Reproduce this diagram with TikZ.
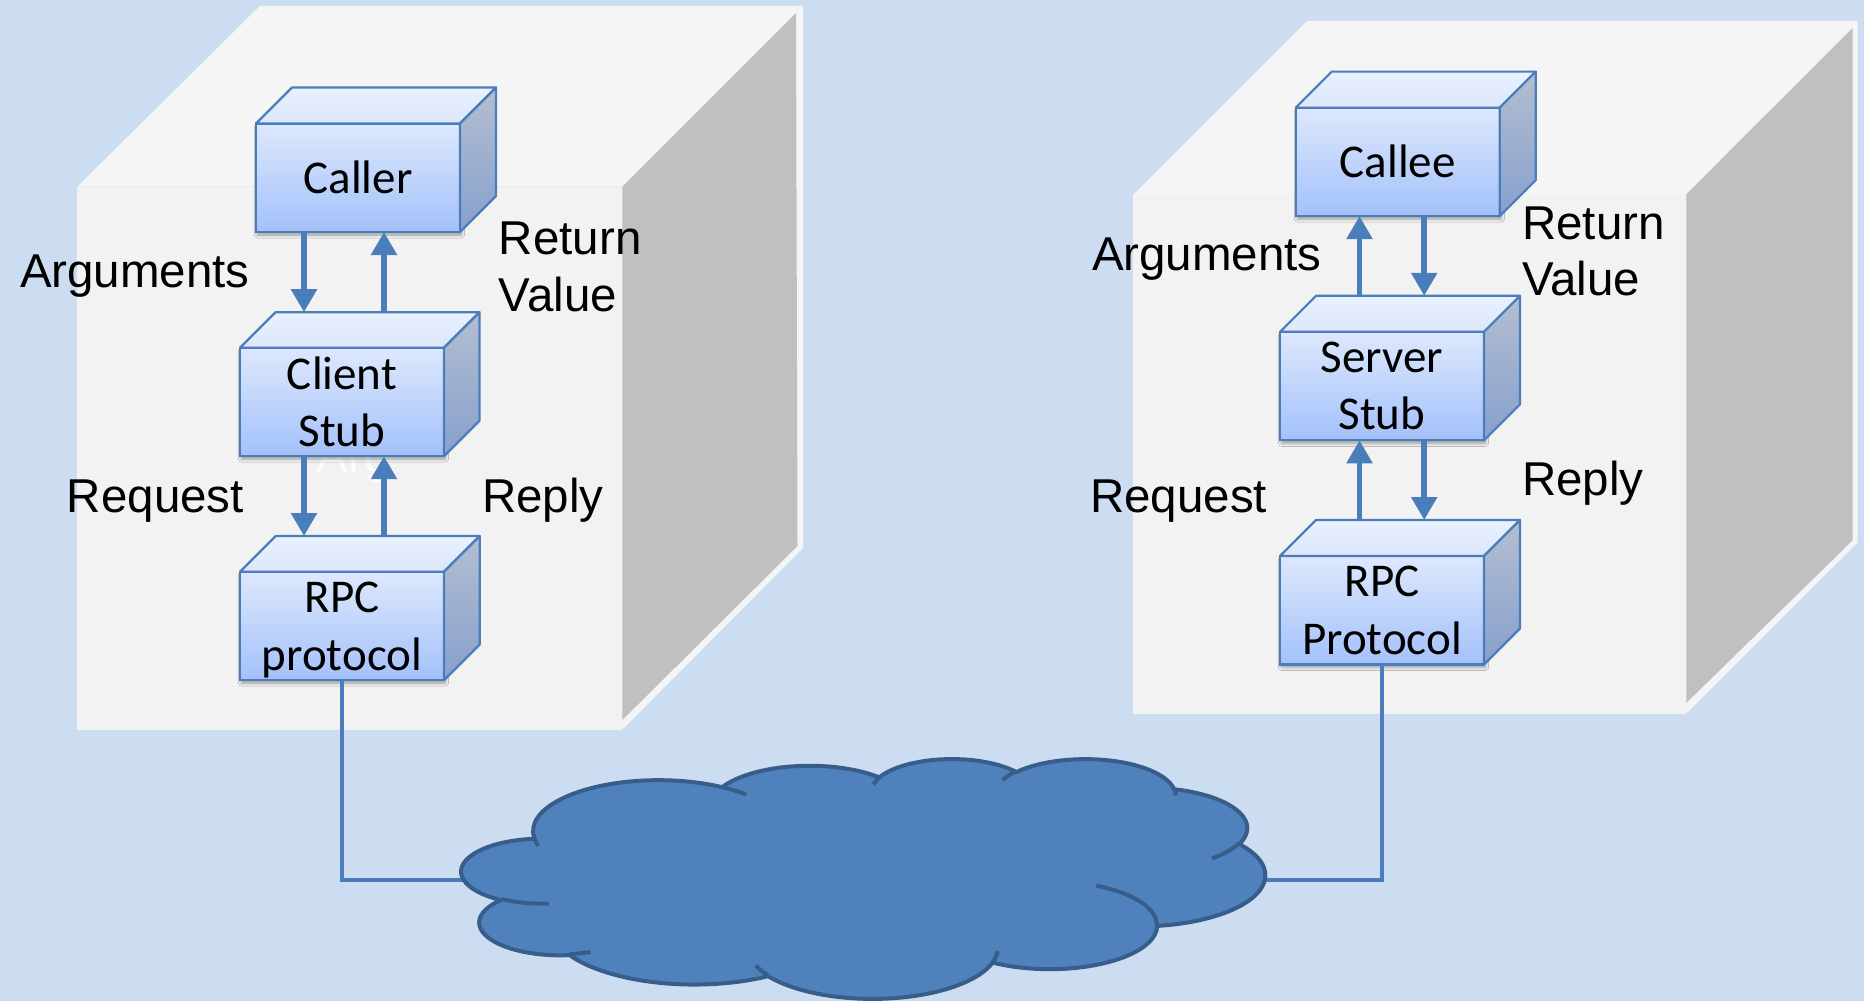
\documentclass[tikz,border=0pt]{standalone}
\usepackage{fontspec}
\newfontfamily\labfont{Liberation Sans}
\newfontfamily\boxfont{Carlito}
\usetikzlibrary{arrows.meta,shadows.blur}
\definecolor{bgblue}{HTML}{CDDDF1}
\definecolor{cubetop}{HTML}{F5F5F5}
\definecolor{cubefront}{HTML}{F2F2F2}
\definecolor{cubeside}{HTML}{C0C0C0}
\definecolor{boxline}{HTML}{4A7EBB}
\definecolor{arrowblue}{HTML}{4A7EBB}
\definecolor{frontTop}{HTML}{DDE8FD}
\definecolor{frontBot}{HTML}{A3C1FA}
\definecolor{topTop}{HTML}{EAF1FE}
\definecolor{topBot}{HTML}{DCE7FC}
\definecolor{sideTop}{HTML}{B3BED1}
\definecolor{sideBot}{HTML}{87A0CC}
\definecolor{cloudfill}{HTML}{4F81BD}
\definecolor{cloudline}{HTML}{385D8A}

\newcommand\cloudarc[5]{%
  \pgfmathsetmacro\cloudtA{atan2((#2)*sin(#4),(#3)*cos(#4))}%
  \pgfmathsetmacro\cloudtB{atan2((#2)*sin((#4)+(#5)),(#3)*cos((#4)+(#5)))}%
  \pgfmathsetmacro\cloudtD{mod((\cloudtB)-(\cloudtA)-(#5)+720,360)}%
  \pgfmathsetmacro\cloudtD{(\cloudtD)>180 ? (\cloudtD)-360 : (\cloudtD)}%
  \pgfmathsetmacro\cloudtE{(\cloudtA)+(#5)+(\cloudtD)}%
  \expandafter\let\csname cl#1S\endcsname\cloudtA
  \expandafter\let\csname cl#1E\endcsname\cloudtE
}

\tikzset{
  frontbox/.style={draw=boxline, line width=2.2pt, top color=frontTop, bottom color=frontBot,
    inner sep=0pt, outer sep=0pt, font=\boxfont\fontsize{47}{57.7}\selectfont, align=center,
    blur shadow={shadow xshift=1.5pt, shadow yshift=-3pt, shadow blur radius=3pt, shadow opacity=35}},
  topface/.style={draw=boxline, line width=2.2pt, line join=round, top color=topTop, bottom color=topBot},
  sideface/.style={draw=boxline, line width=2.2pt, line join=round, top color=sideTop, bottom color=sideBot},
  arr/.style={draw=arrowblue, line width=5.5pt, -{Triangle[width=25pt,length=23pt]}},
  link/.style={draw=arrowblue, line width=4.5pt},
  lab/.style={font=\labfont\fontsize{47.5}{56.7}\selectfont, inner sep=0pt, outer sep=0pt, align=left},
  cloudshape/.style={fill=cloudfill, draw=cloudline, line width=4pt, line join=round},
  cloudinner/.style={draw=cloudline, line width=4pt},
}

\newcommand\cubebox[5]{% name, x, y, depth, text
  \node[frontbox, minimum width=204pt, minimum height=108.5pt, anchor=north west] (#1) at (#2,#3) {#5};
  \path (#1.north west) ++(#4,-#4) coordinate (#1back);
  \path (#1.north east) ++(#4,-#4) coordinate (#1backr);
  \draw[topface] (#1.north west) -- (#1back) -- (#1backr) -- (#1.north east) -- cycle;
  \draw[sideface] (#1.north east) -- (#1backr) -- ++(0,108.5) -- (#1.south east) -- cycle;
}

\begin{document}
\begin{tikzpicture}[x=1pt,y=-1pt]
\useasboundingbox (0,0) rectangle (1864,1001);
\fill[bgblue] (0,0) rectangle (1864,1001);

% ---- left big cube
\fill[cubetop] (77.4,186.6) -- (260,5.8) -- (803,5.8) -- (622.4,186.6) -- cycle;
\fill[cubefront] (77.4,186.6) rectangle (622.4,729.5);
\fill[cubetop] (622.4,186.6) -- (803,5.8) -- (803,548) -- (622.4,729.5) -- cycle;
\fill[cubeside] (622.4,186.6) -- (796,13) -- (797.5,546) -- (622.4,720) -- cycle;

% ---- right big cube
\fill[cubetop] (1133.4,194.4) -- (1307,21.2) -- (1857.5,21.2) -- (1686.3,194.4) -- cycle;
\fill[cubefront] (1133.4,194.4) rectangle (1686.3,713.5);
\fill[cubetop] (1686.3,194.4) -- (1857.5,21.2) -- (1857.5,542.7) -- (1686.3,713.5) -- cycle;
\fill[cubeside] (1686.3,194.4) -- (1852.6,28) -- (1852.6,540.4) -- (1686.3,703) -- cycle;

% ghost text partly hidden behind the client stub
\node[lab, text=white, text opacity=0.85, anchor=base west] (ghost) at (316.7,472) {Arg};

% ---- boxes
\cubebox{caller}{256}{123.5}{36}{Caller}
\cubebox{cstub}{240}{347.7}{35.5}{Client\\Stub}
\cubebox{rpcl}{240}{571.7}{35.7}{\rule{0pt}{39pt}RPC\\protocol}
\cubebox{callee}{1295.8}{107.6}{36}{Callee}
\cubebox{sstub}{1280}{331.8}{36}{Server\\Stub}
\cubebox{rpcr}{1280}{556}{36}{RPC\\Protocol}

% ---- arrows
\coordinate (xa) at (304,0);
\coordinate (xb) at (384,0);
\coordinate (xc) at (1359.5,0);
\coordinate (xd) at (1424.2,0);
\draw[arr] (caller.south -| xa) -- (cstubback -| xa);
\draw[arr] (cstubback -| xb) -- (caller.south -| xb);
\draw[arr] (cstub.south -| xa) -- (rpclback -| xa);
\draw[arr] (rpclback -| xb) -- (cstub.south -| xb);
\draw[arr] (sstubback -| xc) -- (callee.south -| xc);
\draw[arr] (callee.south -| xd) -- (sstubback -| xd);
\draw[arr] (rpcrback -| xc) -- (sstub.south -| xc);
\draw[arr] (sstub.south -| xd) -- (rpcrback -| xd);

% ---- labels
\node[lab, anchor=base west] (argl) at (20,287.4) {Arguments};
\node[lab, anchor=north west] (retl) at (498.9,222) {Return\\Value};
\node[lab, anchor=base west] (reql) at (66.9,512.7) {Request};
\node[lab, anchor=base west] (repl) at (482.2,512.7) {Reply};
\node[lab, anchor=base west] (argr) at (1092,270.4) {Arguments};
\node[lab, anchor=north west] (retr) at (1522.2,206.5) {Return\\Value};
\node[lab, anchor=base west] (reqr) at (1090.2,512.7) {Request};
\node[lab, anchor=base west] (repr) at (1522.2,495.7) {Reply};

% ---- links to the cloud
\coordinate (cloudL) at (470,880);
\coordinate (cloudR) at (1258,880);
\draw[link] (rpcl.south) |- (cloudL);
\draw[link] (rpcr.south) |- (cloudR);

% ---- cloud
\cloudarc{ma}{67.53}{91.90}{-190.4875}{123.7805}
\cloudarc{mb}{53.33}{72.67}{-144.1024}{89.9452}
\cloudarc{mc}{43.65}{59.45}{-145.8079}{99.7230}
\cloudarc{md}{48.57}{65.95}{-130.9861}{117.2417}
\cloudarc{me}{53.33}{72.73}{-78.7089}{109.0269}
\cloudarc{mf}{67.75}{92.20}{-46.2673}{130.2690}
\cloudarc{mg}{57.85}{78.67}{0.6250}{114.0333}
\cloudarc{mh}{67.52}{92.15}{22.4516}{115.1726}
\cloudarc{mi}{77.20}{105.43}{66.2426}{75.7110}
\cloudarc{mj}{43.60}{59.18}{-274.9421}{146.7356}
\cloudarc{mk}{43.45}{59.45}{-246.8285}{152.5189}
\cloudarc{na}{43.45}{59.45}{86.7420}{26.4295}
\cloudarc{nb}{43.60}{59.18}{73.6105}{11.4475}
\cloudarc{nc}{67.52}{92.15}{137.6242}{14.0811}
\cloudarc{nd}{67.52}{92.15}{6.4533}{15.9984}
\cloudarc{ne}{57.85}{78.67}{-70.2924}{70.9174}
\cloudarc{nf}{53.33}{72.73}{30.3180}{27.7515}
\cloudarc{ng}{48.57}{65.95}{-13.7443}{14.8589}
\cloudarc{nh}{48.57}{65.95}{-149.1815}{18.1954}
\cloudarc{ni}{43.65}{59.45}{-163.4943}{17.6864}
\cloudarc{nj}{67.53}{91.90}{-66.7070}{12.3194}
\cloudarc{nk}{67.53}{91.90}{157.6544}{11.8582}
\begin{scope}[shift={(461.7,758.3)}, x=1.8595pt, y=-0.5549pt]
\draw[cloudshape] (39.00,143.70)
  arc[start angle=\clmaS, end angle=\clmaE, x radius=67.53, y radius=91.90]
  arc[start angle=\clmbS, end angle=\clmbE, x radius=53.33, y radius=72.67]
  arc[start angle=\clmcS, end angle=\clmcE, x radius=43.65, y radius=59.45]
  arc[start angle=\clmdS, end angle=\clmdE, x radius=48.57, y radius=65.95]
  arc[start angle=\clmeS, end angle=\clmeE, x radius=53.33, y radius=72.73]
  arc[start angle=\clmfS, end angle=\clmfE, x radius=67.75, y radius=92.20]
  arc[start angle=\clmgS, end angle=\clmgE, x radius=57.85, y radius=78.67]
  arc[start angle=\clmhS, end angle=\clmhE, x radius=67.52, y radius=92.15]
  arc[start angle=\clmiS, end angle=\clmiE, x radius=77.20, y radius=105.43]
  arc[start angle=\clmjS, end angle=\clmjE, x radius=43.60, y radius=59.18]
  arc[start angle=\clmkS, end angle=\clmkE, x radius=43.45, y radius=59.45]
  -- cycle;
\draw[cloudinner] (46.93,261.77) arc[start angle=\clnaS, end angle=\clnaE, x radius=43.45, y radius=59.45];
\draw[cloudinner] (69.28,348.99) arc[start angle=\clnbS, end angle=\clnbE, x radius=43.60, y radius=59.18];
\draw[cloudinner] (164.78,390.90) arc[start angle=\clncS, end angle=\clncE, x radius=67.52, y radius=92.15];
\draw[cloudinner] (288.27,347.51) arc[start angle=\clndS, end angle=\clndE, x radius=67.52, y radius=92.15];
\draw[cloudinner] (341.29,229.54) arc[start angle=\clneS, end angle=\clneE, x radius=57.85, y radius=78.67];
\draw[cloudinner] (417.98,153.54) arc[start angle=\clnfS, end angle=\clnfE, x radius=53.33, y radius=72.73];
\draw[cloudinner] (383.24,54.26) arc[start angle=\clngS, end angle=\clngE, x radius=48.57, y radius=65.95];
\draw[cloudinner] (290.78,39.52) arc[start angle=\clnhS, end angle=\clnhE, x radius=48.57, y radius=65.95];
\draw[cloudinner] (221.41,47.20) arc[start angle=\clniS, end angle=\clniE, x radius=43.65, y radius=59.45];
\draw[cloudinner] (140.00,51.92) arc[start angle=\clnjS, end angle=\clnjE, x radius=67.53, y radius=91.90];
\draw[cloudinner] (41.27,157.89) arc[start angle=\clnkS, end angle=\clnkE, x radius=67.53, y radius=91.90];
\end{scope}
\end{tikzpicture}
\end{document}
